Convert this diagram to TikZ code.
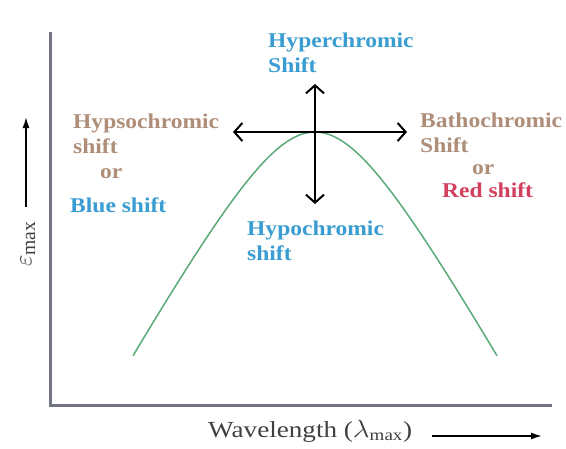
\documentclass[tikz,border=0pt]{standalone}
\usepackage{fontspec}
\setmainfont{Liberation Serif}
\usetikzlibrary{arrows.meta}
\definecolor{axisc}{HTML}{747487}
\definecolor{curvec}{HTML}{5AAA7A}
\definecolor{bluec}{HTML}{3A9DD2}
\definecolor{tanc}{HTML}{AE8E78}
\definecolor{redc}{HTML}{D2405E}
\newcommand{\wide}[1]{\scalebox{1.12}[1]{#1}}
\begin{document}
\begin{tikzpicture}[x=1pt,y=-1pt,
  lab/.style={font=\fontsize{21}{25}\selectfont\bfseries, align=left, inner sep=0pt, anchor=base west},
  axisline/.style={draw=axisc, line width=3pt},
  crossarrow/.style={draw=black, line width=2pt, {Straight Barb[length=8pt,width=18pt]}-{Straight Barb[length=8pt,width=18pt]}},
  axisarrow/.style={draw=black, line width=1.6pt, -{Latex[length=11pt,width=7pt]}}]
\useasboundingbox (0,0) rectangle (566,448);
\fill[white] (0,0) rectangle (566,448);
% axes
\coordinate (ytop) at (50,32);
\coordinate (origin) at (50,405);
\coordinate (xend) at (552,405);
\draw[axisline] (ytop) -- (origin) -- (xend);
% curve
\draw[curvec, line width=1.5pt, domain=133:497, samples=120, smooth]
  plot (\x, {132 + 179*(sqrt(0.49 + ((\x-315)/100)*((\x-315)/100)) - 0.7)});
% cross arrows
\coordinate (peak) at (315,132);
\coordinate (hl) at (233,132);
\coordinate (hr) at (407,132);
\coordinate (vt) at (315,84);
\coordinate (vb) at (315,204);
\draw[crossarrow] (hl) -- (hr);
\draw[crossarrow] (vt) -- (vb);
% labels (base anchor = last line's baseline)
\node[lab, text=bluec] (hyper) at (268,72) {\wide{Hyperchromic}\\\wide{Shift}};
\node[lab, text=bluec] (hypo) at (247,260) {\wide{Hypochromic}\\\wide{shift}};
\node[lab, text=tanc] (hypso) at (73,153) {\wide{Hypsochromic}\\\wide{shift}};
\node[lab, text=tanc] (or1) at (100,178) {\wide{or}};
\node[lab, text=bluec] (blue) at (70,212) {\wide{Blue shift}};
\node[lab, text=tanc] (batho) at (420,152) {\wide{Bathochromic}\\\wide{Shift}};
\node[lab, text=tanc] (or2) at (472,174) {\wide{or}};
\node[lab, text=redc] (red) at (442,197) {\wide{Red shift}};
% x label
\node[inner sep=0pt, anchor=base west, text=black!75, font=\fontsize{23}{26}\selectfont] (wl) at (208,437) {\scalebox{1.18}[1]{Wavelength ($\lambda_{\mathrm{max}}$)}};
\coordinate (xa) at (432,436);
\coordinate (xb) at (542,436);
\draw[axisarrow] (xa) -- (xb);
% y label
\coordinate (ya) at (26,207);
\coordinate (yb) at (26,117);
\draw[axisarrow] (ya) -- (yb);
\node[inner sep=0pt, rotate=90, text=black!75, font=\fontsize{28}{30}\selectfont] (eps) at (28,244) {$\varepsilon_{\mathrm{max}}$};
\end{tikzpicture}
\end{document}
